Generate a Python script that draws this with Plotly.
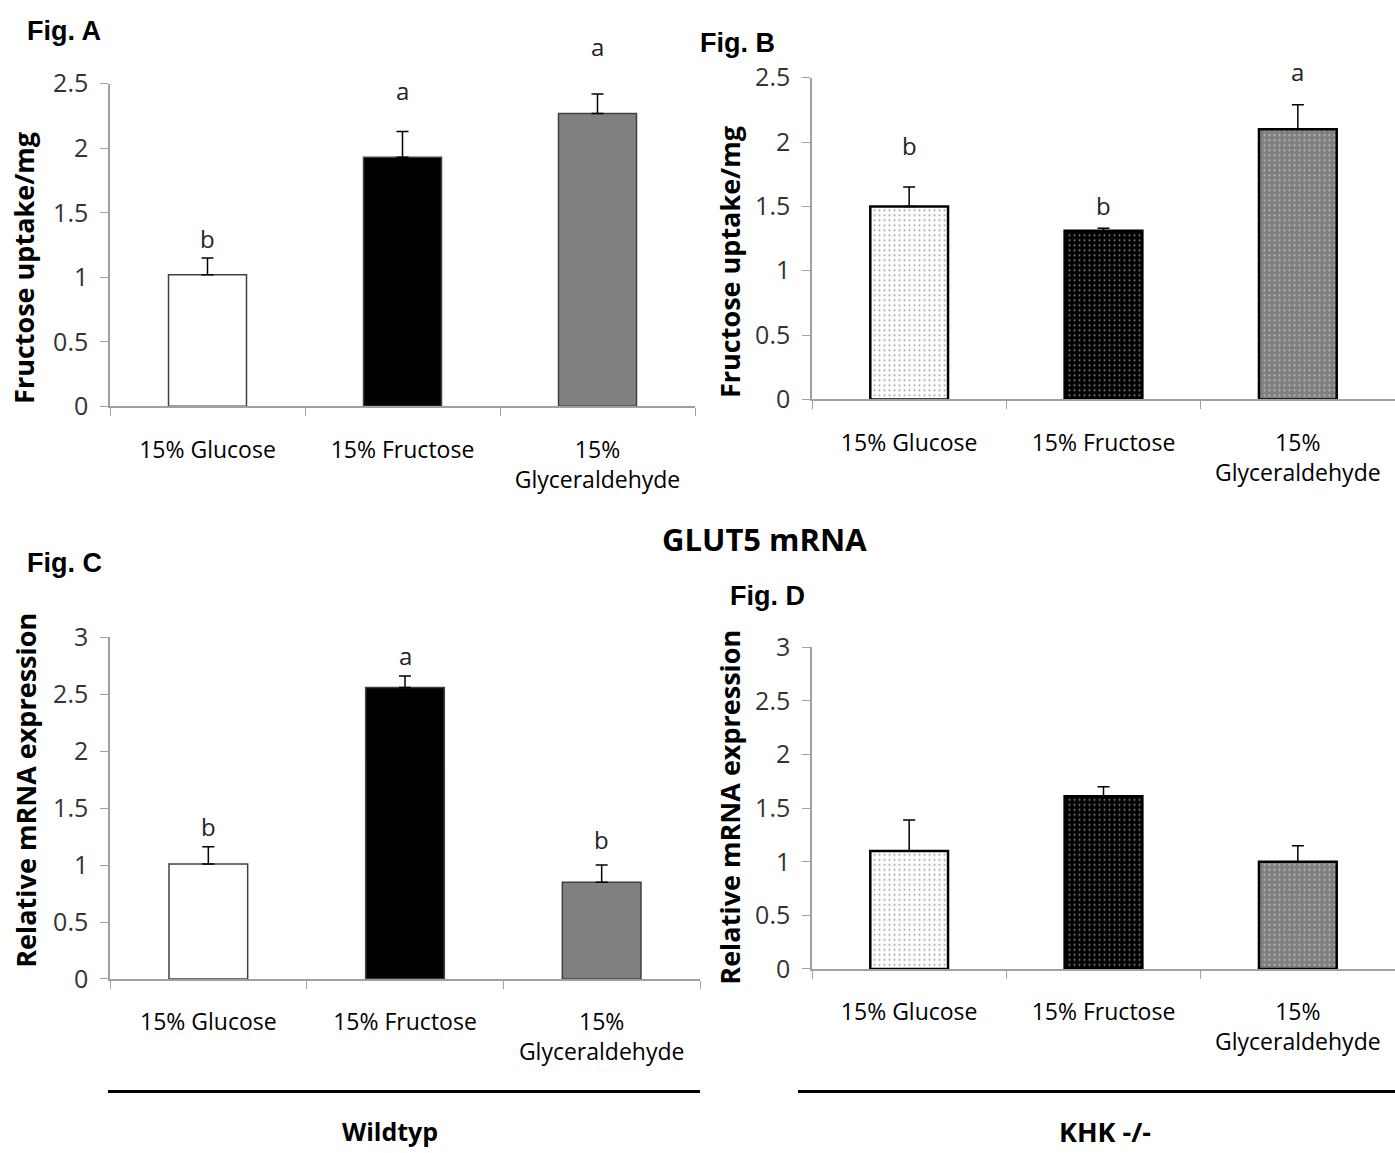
import plotly.graph_objects as go

categories = ["15% Glucose", "15% Fructose", "15%<br>Glyceraldehyde"]

a_vals = [1.02, 1.93, 2.27]
a_err = [0.13, 0.20, 0.15]
a_letters = ["b", "a", "a"]

b_vals = [1.50, 1.31, 2.10]
b_err = [0.15, 0.02, 0.19]
b_letters = ["b", "b", "a"]

c_vals = [1.01, 2.56, 0.85]
c_err = [0.15, 0.10, 0.15]
c_letters = ["b", "a", "b"]

d_vals = [1.10, 1.61, 1.00]
d_err = [0.29, 0.09, 0.15]

# style: pixel gap between error-bar top and letter centre
a_gap = [19, 40, 46]
b_gap = [41, 22, 32]
c_gap = [20, 20, 25]

W = 1395
H = 1168
OFF = 15
SC = 0.975


def px(x):
    return x / W


def py(y):
    return 1 - ((y - OFF) / SC) / H


fig = go.Figure()

solid_colors = ["#ffffff", "#000000", "#808080"]
pattern_bg = ["#ffffff", "#000000", "#7f7f7f"]
pattern_fg = ["#333333", "#ffffff", "#ffffff"]

panels = [
    dict(vals=a_vals, err=a_err, letters=a_letters, gap=a_gap, xa="x", ya="y", pattern=False),
    dict(vals=b_vals, err=b_err, letters=b_letters, gap=b_gap, xa="x2", ya="y2", pattern=True),
    dict(vals=c_vals, err=c_err, letters=c_letters, gap=c_gap, xa="x3", ya="y3", pattern=False),
    dict(vals=d_vals, err=d_err, letters=None, gap=None, xa="x4", ya="y4", pattern=True),
]

for p in panels:
    if p["pattern"]:
        marker = dict(
            color=pattern_bg,
            line=dict(color="#000000", width=2.5),
            pattern=dict(shape=".", fgcolor=pattern_fg, bgcolor=pattern_bg,
                         size=5, solidity=0.14, fillmode="overlay"),
        )
    else:
        marker = dict(color=solid_colors, line=dict(color="#404040", width=1.5))
    fig.add_trace(go.Bar(
        x=categories, y=p["vals"], xaxis=p["xa"], yaxis=p["ya"], width=0.4,
        marker=marker, showlegend=False,
        error_y=dict(type="data", symmetric=False, array=p["err"],
                     arrayminus=[0] * 3, color="#000000", thickness=1.5, width=6),
    ))
    if p["letters"]:
        for cat, v, e, t, g in zip(categories, p["vals"], p["err"], p["letters"], p["gap"]):
            fig.add_annotation(
                x=cat, y=v + e, xref=p["xa"], yref=p["ya"], text=t,
                showarrow=False, yanchor="middle", yshift=g / SC,
                font=dict(family="Open Sans", size=24, color="#222222"),
            )

axis_common = dict(
    showline=True, linecolor="#a0a0a0", linewidth=1.5, ticks="outside",
    tickcolor="#a0a0a0", ticklen=8, showgrid=False, zeroline=False,
)
xfont = dict(family="Open Sans", size=23, color="#000000")
yfont = dict(family="Open Sans", size=25, color="#333333")

layout_axes = {
    "xaxis": dict(domain=[px(110), px(695)], anchor="y", range=[-0.5, 2.5],
                  tickson="boundaries", tickfont=xfont, ticklabelstandoff=22, **axis_common),
    "yaxis": dict(domain=[py(405), py(81)], anchor="x", range=[0, 2.5], dtick=0.5,
                  tickfont=yfont, ticklabelstandoff=7, **axis_common),
    "xaxis2": dict(domain=[px(812), 1.0], anchor="y2", range=[-0.5, 2.5],
                   tickson="boundaries", tickfont=xfont, ticklabelstandoff=22, **axis_common),
    "yaxis2": dict(domain=[py(398), py(75)], anchor="x2", range=[0, 2.5], dtick=0.5,
                   tickfont=yfont, ticklabelstandoff=7, **axis_common),
    "xaxis3": dict(domain=[px(110), px(700)], anchor="y3", range=[-0.5, 2.5],
                   tickson="boundaries", tickfont=xfont, ticklabelstandoff=22, **axis_common),
    "yaxis3": dict(domain=[py(980), py(637)], anchor="x3", range=[0, 3], dtick=0.5,
                   tickfont=yfont, ticklabelstandoff=7, **axis_common),
    "xaxis4": dict(domain=[px(812), 1.0], anchor="y4", range=[-0.5, 2.5],
                   tickson="boundaries", tickfont=xfont, ticklabelstandoff=22, **axis_common),
    "yaxis4": dict(domain=[py(970), py(647)], anchor="x4", range=[0, 3], dtick=0.5,
                   tickfont=yfont, ticklabelstandoff=7, **axis_common),
}

fig.update_layout(
    width=W, height=H, margin=dict(l=0, r=0, t=0, b=0),
    plot_bgcolor="white", paper_bgcolor="white", bargap=0.6,
    **layout_axes,
)

fig_labels = [("Fig. A", 25, 28), ("Fig. B", 698, 40), ("Fig. C", 25, 562), ("Fig. D", 728, 595)]
for t, x, y in fig_labels:
    fig.add_annotation(x=px(x), y=py(y), xref="paper", yref="paper", text="<b>" + t + "</b>",
                       showarrow=False, xanchor="left", yanchor="middle",
                       font=dict(family="Liberation Sans", size=27, color="#000000"))

ytitles = [("Fructose uptake/mg", 24, 266), ("Fructose uptake/mg", 730, 260),
           ("Relative mRNA expression", 26, 791), ("Relative mRNA expression", 730, 808)]
for t, x, y in ytitles:
    fig.add_annotation(x=px(x), y=py(y), xref="paper", yref="paper", text="<b>" + t + "</b>",
                       showarrow=False, textangle=-90, xanchor="center", yanchor="middle",
                       font=dict(family="Open Sans", size=27, color="#000000"))

fig.add_annotation(x=px(765), y=py(538), xref="paper", yref="paper", text="<b>GLUT5 mRNA</b>",
                   showarrow=False, xanchor="center", yanchor="middle",
                   font=dict(family="Open Sans", size=31, color="#000000"))
fig.add_annotation(x=px(390), y=py(1133), xref="paper", yref="paper", text="<b>Wildtyp</b>",
                   showarrow=False, xanchor="center", yanchor="middle", borderpad=0,
                   font=dict(family="Open Sans", size=25, color="#000000"))
fig.add_annotation(x=px(1105), y=py(1133), xref="paper", yref="paper", text="<b>KHK -/-</b>",
                   showarrow=False, xanchor="center", yanchor="middle", borderpad=0,
                   font=dict(family="Open Sans", size=27, color="#000000"))

fig.add_shape(type="line", xref="paper", yref="paper", x0=px(108), x1=px(700),
              y0=py(1093), y1=py(1093), line=dict(color="#000000", width=3))
fig.add_shape(type="line", xref="paper", yref="paper", x0=px(798), x1=1.0,
              y0=py(1093), y1=py(1093), line=dict(color="#000000", width=3))

fig.write_html("out.html")
